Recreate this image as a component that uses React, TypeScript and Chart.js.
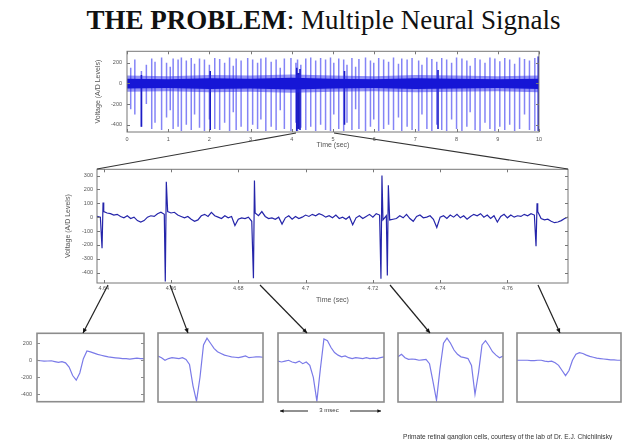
import React, { useEffect, useRef } from "react";
import { Chart, registerables } from "chart.js";
Chart.register(...registerables);

const SANS = "'Liberation Sans', Arial, sans-serif";
const SERIF = "'Liberation Serif', 'Times New Roman', serif";

// ---------- text ----------
const titleBold = "THE PROBLEM";
const titleRest = ": Multiple Neural Signals";
const yTitle = "Voltage (A/D Levels)";
const xTitle = "Time (sec)";
const footerText = "Primate retinal ganglion cells, courtesy of the lab of Dr. E.J. Chichilnisky";
const scaleBarText = "3 msec";

// ---------- top panel (10 s recording) ----------
const topXTicks = [0, 1, 2, 3, 4, 5, 6, 7, 8, 9, 10];
const topYTicks = [-400, -200, 0, 200];
const topSpikeTimes = [
  0.09, 0.19, 0.35, 0.47, 0.6, 0.68, 0.84, 0.96, 1.05, 1.12,
  1.24, 1.32, 1.44, 1.56, 1.64, 1.76, 1.88, 2.0, 2.13, 2.25,
  2.37, 2.49, 2.58, 2.65, 2.77, 2.93, 3.05, 3.17, 3.25, 3.37,
  3.5, 3.62, 3.72, 3.82, 3.98, 4.1, 4.14, 4.22, 4.34, 4.46,
  4.58, 4.7, 4.82, 4.94, 5.02, 5.14, 5.26, 5.34, 5.46, 5.55,
  5.63, 5.79, 5.91, 5.99, 6.11, 6.23, 6.35, 6.47, 6.59, 6.67,
  6.8, 6.92, 7.08, 7.16, 7.28, 7.4, 7.52, 7.64, 7.76, 7.88,
  8.0, 8.13, 8.25, 8.33, 8.45, 8.57, 8.69, 8.81, 8.93, 9.05,
  9.17, 9.29, 9.41, 9.53, 9.65, 9.77, 9.9, 9.98,
];
const topSpikeHigh = [
  150, 230, 120, 180, 240, 210, 250, 200, 160, 240,
  230, 250, 220, 245, 190, 240, 230, 180, 245, 235,
  200, 250, 170, 240, 220, 245, 230, 200, 240, 250,
  210, 230, 150, 240, 245, 200, 230, 180, 240, 250,
  220, 245, 230, 250, 200, 240, 230, 180, 245, 160,
  235, 250, 220, 200, 245, 230, 210, 250, 190, 240,
  230, 245, 220, 180, 250, 235, 210, 245, 230, 200,
  250, 240, 220, 170, 245, 230, 200, 250, 240, 215,
  245, 230, 190, 250, 235, 220, 245, 260,
];
const topSpikeLow = [
  -250, -300, -420, -200, -440, -380, -450, -330, -260, -440,
  -420, -460, -400, -450, -300, -430, -460, -350, -440, -450,
  -380, -460, -280, -450, -420, -460, -400, -440, -350, -460,
  -420, -450, -260, -440, -460, -380, -460, -430, -450, -420,
  -460, -400, -450, -460, -300, -440, -460, -380, -450, -250,
  -440, -460, -420, -350, -460, -440, -400, -450, -330, -460,
  -420, -450, -460, -300, -440, -460, -400, -450, -460, -350,
  -440, -460, -420, -280, -450, -460, -380, -440, -460, -420,
  -450, -400, -460, -440, -300, -450, -460, -460,
];
const topDarkTimes = [0.35, 2.02, 4.12, 4.16, 4.2, 5.28, 7.55, 9.99];
const topDarkHigh = [80, 120, 150, 100, 140, 120, 130, 260];
const topDarkLow = [-420, -450, -460, -440, -450, -400, -440, -460];
const topBandTimes = [0, 1, 2, 3, 4, 5, 6, 7, 8, 9, 10];
const topBandInnerHigh = [45, 40, 50, 45, 55, 45, 40, 50, 45, 40, 45];
const topBandInnerLow = [-50, -45, -55, -50, -60, -50, -45, -55, -50, -45, -55];
const topBandOuterHigh = [75, 70, 80, 75, 85, 75, 70, 80, 75, 70, 75];
const topBandOuterLow = [-80, -75, -85, -80, -90, -80, -75, -85, -80, -75, -85];

// ---------- middle panel (zoomed 140 ms) ----------
const midXTicks = [4.64, 4.66, 4.68, 4.7, 4.72, 4.74, 4.76];
const midYTicks = [-400, -300, -200, -100, 0, 100, 200, 300];
const midStart = 4.638;
const midStep = 0.001;
const midNoise = [
  5, 0, 40, 30, 25, 15, 20, 5, -5, 10,
  -10, 0, -25, -35, -25, 0, 10, 5, 25, 35,
  20, 40, 30, 35, 15, 5, -5, 5, -15, -30,
  -20, 10, 20, 5, 35, 10, 0, -10, 10, -5,
  5, -60, -15, -5, -10, 0, -30, 30, 10, 40,
  5, -10, -5, -15, 0, -50, -5, 10, -15, 5,
  -10, 0, 15, 5, 20, 10, 25, 15, 0, 10,
  -5, 15, -10, 0, -15, 5, -55, -5, 10, -10,
  5, 20, 0, 25, 15, -20, 10, -20, -15, -10,
  10, -5, 20, -10, -30, 5, 15, -5, 0, 10,
  -15, -75, 0, 10, -10, 15, 0, 20, -5, 10,
  -15, 5, 20, 10, 25, 0, 15, -10, 10, -35,
  5, 20, -5, 15, 0, 10, 5, 20, 10, 25,
  15, 40, -10, -20, -15, -30, -40, -35, -25, -10,
  0,
];
const midSpikeTimes = [4.6395, 4.6583, 4.6845, 4.7224, 4.7243, 4.7685];
const midSpikeHigh = [105, 255, 265, 300, 230, 100];
const midSpikeLow = [-225, -465, -440, -445, -420, -210];

// ---------- bottom spike snippets (3 ms each, 0.1 ms samples) ----------
const boxYTicks = [-400, -200, 0, 200];
const boxStepMs = 0.1;
const snippet1 = [0, -5, -10, -8, -5, -15, -25, -15, -30, -80, -180, -235, -150, 20, 110, 100, 85, 70, 60, 50, 40, 35, 30, 25, 20, 20, 15, 20, 25, 20, 20];
const snippet2 = [50, 30, 0, 20, 30, 25, 20, 30, 10, -50, -300, -480, -200, 180, 260, 200, 140, 100, 80, 60, 50, 40, 35, 30, 40, 50, 30, 35, 40, 40, 35];
const snippet3 = [-10, -20, -10, 0, -20, -30, -10, -40, -20, -60, -200, -480, -100, 250, 230, 150, 90, 60, 40, 50, 30, 20, 30, 25, 20, 30, 20, 25, 20, 30, 40];
const snippet4 = [40, 70, 30, 10, 15, 10, 0, 5, 10, -40, -250, -470, -100, 200, 260, 200, 120, 70, 40, 30, 20, -60, -400, -150, 180, 230, 170, 100, 60, 30, 50];
const snippet5 = [0, 0, 0, 0, -5, -5, 0, 0, -10, -15, -10, -30, -60, -120, -180, -120, 0, 70, 90, 80, 60, 45, 35, 25, 20, 15, 10, 5, 5, 0, 0];

// ---------- helpers ----------
const framePlugin = {
  id: "frame",
  afterDatasetsDraw(chart: any, _a: any, opts: any) {
    const { ctx, chartArea: a } = chart;
    ctx.save();
    const L = opts.tickLen || 0;
    if (L) {
      ctx.strokeStyle = opts.tickColor || opts.color;
      ctx.lineWidth = 1;
      ctx.beginPath();
      const xs = chart.scales.x;
      const ys = chart.scales.y;
      if (opts.xTicks && xs) {
        for (const t of xs.ticks) {
          const p = Math.round(xs.getPixelForValue(t.value)) + 0.5;
          ctx.moveTo(p, a.bottom); ctx.lineTo(p, a.bottom - L);
          ctx.moveTo(p, a.top); ctx.lineTo(p, a.top + L);
        }
      }
      if (opts.yTicks && ys) {
        for (const t of ys.ticks) {
          const p = Math.round(ys.getPixelForValue(t.value)) + 0.5;
          ctx.moveTo(a.left, p); ctx.lineTo(a.left + L, p);
          ctx.moveTo(a.right, p); ctx.lineTo(a.right - L, p);
        }
      }
      ctx.stroke();
    }
    ctx.strokeStyle = opts.color;
    ctx.lineWidth = opts.width;
    ctx.strokeRect(a.left, a.top, a.right - a.left, a.bottom - a.top);
    ctx.restore();
  },
};

const fixedTicks = (values: number[]) => (s: any) => {
  s.ticks = values.map((v) => ({ value: v }));
};
const fixWidth = (w: number) => (s: any) => { s.width = w; };
const fixHeight = (h: number) => (s: any) => { s.height = h; };

const tickFont = { family: SANS, size: 5.5 };
const titleFont = { family: SANS, size: 7 };
const NONE = "rgba(0,0,0,0)";

const baseOptions = (padding: any, scales: any, frame: any) => ({
  responsive: false,
  animation: false,
  devicePixelRatio: 1,
  events: [],
  layout: { padding },
  plugins: { legend: { display: false }, tooltip: { enabled: false }, frame },
  elements: { point: { radius: 0 }, line: { tension: 0 } },
  scales,
});

const spikeSegments = (times: number[], hi: number[], lo: number[]) =>
  times.flatMap((t, i) => [
    { x: t, y: hi[i] },
    { x: t, y: lo[i] },
    { x: t, y: null },
  ]);

function topConfig(): any {
  const band = (hi: number[]) => topBandTimes.map((t, i) => ({ x: t, y: hi[i] }));
  return {
    type: "line",
    data: {
      datasets: [
        { data: band(topBandInnerHigh), borderColor: NONE, borderWidth: 0, fill: false, order: 0 },
        { data: band(topBandInnerLow), borderColor: NONE, borderWidth: 0, fill: "-1", backgroundColor: "#1616d6", order: 0 },
        { data: band(topBandOuterHigh), borderColor: NONE, borderWidth: 0, fill: false, order: 1 },
        { data: band(topBandOuterLow), borderColor: NONE, borderWidth: 0, fill: "-1", backgroundColor: "rgba(40,40,235,0.5)", order: 1 },
        { data: spikeSegments(topDarkTimes, topDarkHigh, topDarkLow), borderColor: "#1c1cc4", borderWidth: 1.6, spanGaps: false, order: 2 },
        { data: spikeSegments(topSpikeTimes, topSpikeHigh, topSpikeLow), borderColor: "rgba(50,50,240,0.6)", borderWidth: 1.5, spanGaps: false, order: 3 },
      ],
    },
    options: baseOptions(
      { top: 0, right: 5, left: 0, bottom: 0 },
      {
        x: {
          type: "linear", min: 0, max: 10,
          afterBuildTicks: fixedTicks(topXTicks), afterFit: fixHeight(25),
          grid: { display: false, drawTicks: false }, border: { display: false },
          ticks: { font: tickFont, color: "#555", padding: 4, maxRotation: 0, autoSkip: false, callback: (v: any) => String(v) },
          title: { display: true, text: xTitle, font: titleFont, color: "#555", padding: { top: 0, bottom: 8 } },
        },
        y: {
          type: "linear", min: -470, max: 310,
          afterBuildTicks: fixedTicks(topYTicks), afterFit: fixWidth(47),
          grid: { display: false, drawTicks: false }, border: { display: false },
          ticks: { font: tickFont, color: "#555", padding: 5, callback: (v: any) => String(v) },
          title: { display: true, text: yTitle, font: titleFont, color: "#555", padding: { top: 14, bottom: 0 } },
        },
      },
      { color: "#777", width: 1, tickLen: 3, xTicks: true, yTicks: true },
    ),
    plugins: [framePlugin],
  };
}

function midConfig(): any {
  const pts: { x: number; y: number }[] = midNoise.map((v, i) => ({ x: +(midStart + i * midStep).toFixed(4), y: v }));
  midSpikeTimes.forEach((t, i) => {
    pts.push({ x: t, y: midSpikeLow[i] });
    pts.push({ x: +(t + 0.0003).toFixed(4), y: midSpikeHigh[i] });
  });
  pts.sort((a, b) => a.x - b.x);
  return {
    type: "line",
    data: { datasets: [{ data: pts, borderColor: "#2525aa", borderWidth: 1.2 }] },
    options: baseOptions(
      { top: 0, right: 7, left: 0, bottom: 0 },
      {
        x: {
          type: "linear", min: 4.638, max: 4.778,
          afterBuildTicks: fixedTicks(midXTicks), afterFit: fixHeight(25),
          grid: { display: false, drawTicks: false }, border: { display: false },
          ticks: { font: tickFont, color: "#555", padding: 2, maxRotation: 0, autoSkip: false, callback: (v: any) => String(Number(Number(v).toFixed(2))) },
          title: { display: true, text: xTitle, font: titleFont, color: "#555", padding: { top: 0, bottom: 4 } },
        },
        y: {
          type: "linear", min: -475, max: 345,
          afterBuildTicks: fixedTicks(midYTicks), afterFit: fixWidth(42),
          grid: { display: false, drawTicks: false }, border: { display: false },
          ticks: { font: tickFont, color: "#555", padding: 4, callback: (v: any) => String(v) },
          title: { display: true, text: yTitle, font: titleFont, color: "#555", padding: { top: 9, bottom: 0 } },
        },
      },
      { color: "#777", width: 1, tickLen: 3, xTicks: true, yTicks: true },
    ),
    plugins: [framePlugin],
  };
}

function boxConfig(values: number[], withAxis: boolean, padding: any): any {
  const y: any = { type: "linear", min: -490, max: 320, display: withAxis };
  if (withAxis) {
    Object.assign(y, {
      afterBuildTicks: fixedTicks(boxYTicks), afterFit: fixWidth(37),
      grid: { display: false, drawTicks: false }, border: { display: false },
      ticks: { font: tickFont, color: "#555", padding: 5, callback: (v: any) => String(v) },
    });
  }
  return {
    type: "line",
    data: { datasets: [{ data: values.map((v, i) => ({ x: +(i * boxStepMs).toFixed(2), y: v })), borderColor: "#7a7ae8", borderWidth: 1.2 }] },
    options: baseOptions(
      padding,
      { x: { type: "linear", min: 0, max: 3, display: false }, y },
      { color: "#8c8c8c", width: 1.6, tickLen: withAxis ? 3 : 0, xTicks: false, yTicks: withAxis },
    ),
    plugins: [framePlugin],
  };
}

function ChartBox({ left, top, width, height, make }: any) {
  const ref = useRef<HTMLCanvasElement | null>(null);
  useEffect(() => {
    if (!ref.current) return;
    const c = new Chart(ref.current, make());
    return () => c.destroy();
  }, []);
  return (
    <div style={{ position: "absolute", left, top, width, height }}>
      <canvas ref={ref} width={width} height={height} style={{ width, height, display: "block" }} />
    </div>
  );
}

function arrowHead(x1: number, y1: number, x2: number, y2: number, size: number) {
  const ang = Math.atan2(y2 - y1, x2 - x1);
  const a1 = ang + Math.PI - 0.45;
  const a2 = ang + Math.PI + 0.45;
  return `${x2},${y2} ${x2 + size * Math.cos(a1)},${y2 + size * Math.sin(a1)} ${x2 + size * Math.cos(a2)},${y2 + size * Math.sin(a2)}`;
}

const zoomLines = [
  [296, 133, 97, 169],
  [334, 133, 568, 169],
];
const spikeArrows = [
  [108, 285, 83, 333],
  [170, 285, 188, 333],
  [260, 285, 307, 333],
  [390, 285, 430, 333],
  [538, 285, 560, 333],
];
const barArrows = [
  [308, 411, 280, 411],
  [350, 411, 381, 411],
];

export default function App() {
  return (
    <div style={{ position: "fixed", left: 0, top: 0, width: 623, height: 440, background: "#fff", overflow: "hidden" }}>
      <div style={{ position: "absolute", left: 0, top: 7, width: 623, textAlign: "center", paddingLeft: 24, boxSizing: "border-box", fontFamily: SERIF, fontSize: 27, lineHeight: "27px", color: "#111", whiteSpace: "nowrap" }}>
        <b>{titleBold}</b>{titleRest}
      </div>
      <ChartBox left={80} top={43} width={466} height={114} make={topConfig} />
      <ChartBox left={55} top={162} width={520} height={146} make={midConfig} />
      <ChartBox left={0} top={325} width={148} height={85} make={() => boxConfig(snippet1, true, { top: 0, right: 4, left: 0, bottom: 0 })} />
      <ChartBox left={154} top={327} width={113} height={80} make={() => boxConfig(snippet2, false, { top: 6, right: 4, left: 4, bottom: 5 })} />
      <ChartBox left={274} top={327} width={114} height={80} make={() => boxConfig(snippet3, false, { top: 6, right: 4, left: 4, bottom: 5 })} />
      <ChartBox left={394} top={327} width={113} height={80} make={() => boxConfig(snippet4, false, { top: 6, right: 4, left: 4, bottom: 5 })} />
      <ChartBox left={513} top={327} width={110} height={80} make={() => boxConfig(snippet5, false, { top: 6, right: 2, left: 4, bottom: 5 })} />
      <svg width={623} height={440} style={{ position: "absolute", left: 0, top: 0, pointerEvents: "none" }}>
        {zoomLines.map((l, i) => (
          <line key={"z" + i} x1={l[0]} y1={l[1]} x2={l[2]} y2={l[3]} stroke="#333" strokeWidth={1.1} />
        ))}
        {spikeArrows.map((l, i) => (
          <g key={"a" + i}>
            <line x1={l[0]} y1={l[1]} x2={l[2]} y2={l[3]} stroke="#222" strokeWidth={1.2} />
            <polygon points={arrowHead(l[0], l[1], l[2], l[3], 5)} fill="#111" />
          </g>
        ))}
        {barArrows.map((l, i) => (
          <g key={"b" + i}>
            <line x1={l[0]} y1={l[1]} x2={l[2]} y2={l[3]} stroke="#222" strokeWidth={1} />
            <polygon points={arrowHead(l[0], l[1], l[2], l[3], 4)} fill="#111" />
          </g>
        ))}
      </svg>
      <div style={{ position: "absolute", left: 299, top: 406, width: 60, textAlign: "center", fontFamily: SANS, fontSize: 6, lineHeight: "8px", color: "#333" }}>
        {scaleBarText}
      </div>
      <div style={{ position: "absolute", left: 403, top: 433, fontFamily: SANS, fontSize: 6.6, lineHeight: "8px", color: "#333", whiteSpace: "nowrap" }}>
        {footerText}
      </div>
    </div>
  );
}
